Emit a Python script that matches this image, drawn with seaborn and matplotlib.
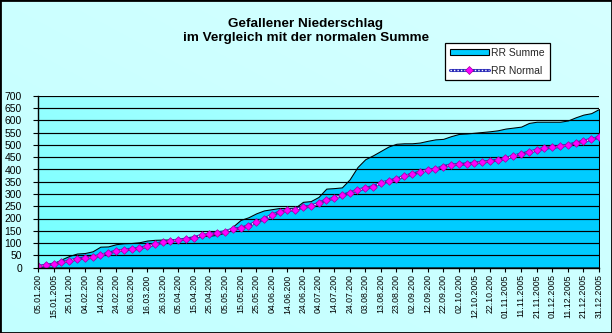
import numpy as np
import matplotlib
matplotlib.use("Agg")
import matplotlib.pyplot as plt
import seaborn as sns
from matplotlib.colors import to_rgb
from matplotlib.patches import Rectangle, Patch
from matplotlib.lines import Line2D

# Cumulative precipitation 2005 (mm), one value every 5 days from 05.01 to 31.12
rr_summe = [3, 8, 17, 33, 47, 57, 59, 66, 85, 86,
            95, 99, 100, 103, 110, 113, 114, 114, 115, 117,
            125, 128, 130, 133, 143, 167, 194, 205, 221, 233,
            238, 243, 243, 244, 268, 271, 288, 322, 324, 327,
            360, 410, 442, 458, 476, 494, 505, 507, 507, 510,
            517, 523, 525, 536, 545, 547, 550, 553, 556, 560,
            567, 571, 575, 590, 595, 595, 595, 595, 600, 613,
            624, 630, 647]

# Normal cumulative precipitation for the same dates (mm)
rr_normal = [5, 9, 14, 22, 26, 35, 39, 41, 50, 58,
             67, 71, 75, 78, 86, 95, 103, 108, 112, 116,
             122, 131, 136, 141, 146, 157, 160, 171, 184, 198,
             213, 227, 233, 236, 246, 250, 262, 276, 282, 295,
             304, 316, 323, 330, 344, 353, 361, 372, 381, 390,
             398, 401, 412, 419, 421, 423, 426, 430, 434, 438,
             445, 455, 463, 471, 479, 487, 490, 494, 500, 508,
             516, 523, 531]

# Category labels shown on every second data point
tick_labels = ["05.01.200", "15.01.2005", "25.01.200", "04.02.200", "14.02.200",
               "24.02.200", "06.03.200", "16.03.200", "26.03.200", "05.04.200",
               "15.04.200", "25.04.200", "05.05.200", "15.05.200", "25.05.200",
               "04.06.200", "14.06.200", "24.06.200", "04.07.200", "14.07.200",
               "24.07.200", "03.08.200", "13.08.200", "23.08.200", "02.09.200",
               "12.09.200", "22.09.200", "02.10.200", "12.10.2005", "22.10.200",
               "01.11.2005", "11.11.2005", "21.11.2005", "01.12.2005", "11.12.2005",
               "21.12.2005", "31.12.2005"]

y_ticks = list(range(0, 701, 50))

sns.set_theme(style="white")
plt.rcParams['font.family'] = ['Liberation Sans', 'DejaVu Sans']

W, H = 612, 333
fig = plt.figure(figsize=(W / 100, H / 100), dpi=100)


def gradient(c0, c1, wx, wy, n=200):
    a = np.array(to_rgb(c0))
    b = np.array(to_rgb(c1))
    xx, yy = np.meshgrid(np.linspace(0, 1, n), np.linspace(0, 1, n))
    t = np.clip(wx * xx + wy * yy, 0, 1)[..., None]
    return a + (b - a) * t


# chart area background
bg = fig.add_axes([0, 0, 1, 1], zorder=-10)
bg.imshow(gradient("#C2FFFF", "#D6FFFF", 0.5, 0.5), origin="lower",
          extent=[0, 1, 0, 1], aspect="auto")
bg.set_axis_off()

# plot area
left, right = 38 / W, 599 / W
bottom, top = 1 - 267.5 / H, 1 - 96 / H
ax = fig.add_axes([left, bottom, right - left, top - bottom])
ax.set_facecolor("none")
ax.imshow(gradient("#70FFFF", "#C4FFFF", 0.55, 0.45), origin="lower",
          extent=[0, 72, 0, 700], aspect="auto", zorder=0)

x = np.arange(len(rr_summe))

# RR Summe as filled area with black outline
ax.fill_between(x, rr_summe, 0, facecolor="#00CCFF", edgecolor="black",
                linewidth=0.75, zorder=2)

# RR Normal: patterned navy/white line with magenta diamonds
sns.lineplot(x=x, y=rr_normal, ax=ax, color="#2B2BB8", linewidth=2.2, zorder=3)
sns.lineplot(x=x, y=rr_normal, ax=ax, color="white", linewidth=1.0,
             dashes=False, zorder=4)
ax.lines[-1].set_dashes((1, 1.5))
sns.scatterplot(x=x, y=rr_normal, ax=ax, marker="D", s=15, color="#FF00FF",
                edgecolor="#A000A0", linewidth=0.5, zorder=5)

ax.set_xlim(0, 72)
ax.set_ylim(0, 700)
ax.set_yticks(y_ticks)
ax.set_yticklabels([str(v) for v in y_ticks], fontsize=7.5)
ax.set_xticks(x[::2])
ax.set_xticklabels(tick_labels, rotation=90, fontsize=6.3)
ax.set_xlabel("")
ax.set_ylabel("")

ax.yaxis.grid(True, color="black", linewidth=0.85)
ax.xaxis.grid(False)
ax.set_axisbelow(False)
for gl in ax.get_ygridlines():
    gl.set_zorder(1)

for side in ("top", "right"):
    ax.spines[side].set_visible(False)
for side in ("left", "bottom"):
    ax.spines[side].set_color("black")
    ax.spines[side].set_linewidth(1.0)
    ax.spines[side].set_zorder(6)

ax.tick_params(axis="y", which="both", left=True, length=3.5, width=0.8,
               color="black", direction="out", pad=8, labelcolor="black")
ax.tick_params(axis="x", which="both", bottom=True, length=3, width=0.8,
               color="black", direction="out", pad=2, labelcolor="black")

# title
fig.text(0.5, 1 - 26.5 / H, "Gefallener Niederschlag", ha="center",
         va="baseline", fontsize=9.7, fontweight="bold", color="black")
fig.text(0.5, 1 - 41.5 / H, "im Vergleich mit der normalen Summe", ha="center",
         va="baseline", fontsize=9.7, fontweight="bold", color="black")

# legend
h_summe = Patch(facecolor="#00CCFF", edgecolor="black", linewidth=0.8)
h_normal = (Line2D([], [], color="#2B2BB8", linewidth=2.2),
            Line2D([], [], color="white", linewidth=1.0, dashes=(1, 1.5)),
            Line2D([], [], linestyle="none", marker="D", markersize=4,
                   markerfacecolor="#FF00FF", markeredgecolor="#A000A0",
                   markeredgewidth=0.5))
leg = fig.legend([h_summe, h_normal], ["RR Summe", "RR Normal"],
                 loc="upper left", bbox_to_anchor=(445 / W, 1 - 43 / H),
                 frameon=True, fancybox=False, shadow=False, fontsize=7.5,
                 handlelength=3.8, handleheight=0.55, handletextpad=0.2,
                 labelspacing=0.75, borderpad=0.45, borderaxespad=0)
leg.get_frame().set_edgecolor("black")
leg.get_frame().set_facecolor("white")
leg.get_frame().set_linewidth(0.9)
leg.get_frame().set_alpha(1)

# outer frame
fig.add_artist(Rectangle((0, 0), 1, 1, transform=fig.transFigure, fill=False,
                         edgecolor="black", linewidth=2))

fig.savefig("out.png", dpi=100)
